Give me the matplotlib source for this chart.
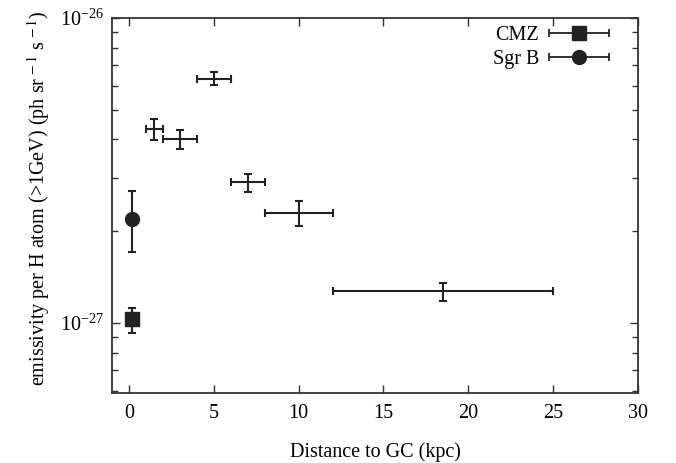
import numpy as np
import matplotlib
matplotlib.use("Agg")
import matplotlib.pyplot as plt
from matplotlib.legend_handler import HandlerErrorbar
from matplotlib.container import ErrorbarContainer
from matplotlib.ticker import NullFormatter

plt.rcParams['font.family'] = ['Liberation Serif', 'DejaVu Serif']
plt.rcParams['mathtext.fontset'] = 'stix'

# rings (distance bins)
dist = [1.5, 3.0, 5.0, 7.0, 10.0, 18.5]
dist_lo = [1.0, 2.0, 4.0, 6.0, 8.0, 12.0]
dist_hi = [2.0, 4.0, 6.0, 8.0, 12.0, 25.0]
emis = [4.34e-27, 4.0e-27, 6.33e-27, 2.90e-27, 2.30e-27, 1.27e-27]
emis_hi = [4.67e-27, 4.3e-27, 6.65e-27, 3.09e-27, 2.51e-27, 1.35e-27]
emis_lo = [3.99e-27, 3.71e-27, 6.01e-27, 2.69e-27, 2.08e-27, 1.18e-27]

# CMZ and Sgr B
cmz_x, cmz_y, cmz_hi, cmz_lo = 0.2, 1.03e-27, 1.12e-27, 0.93e-27
sgrb_x, sgrb_y, sgrb_hi, sgrb_lo = 0.2, 2.20e-27, 2.70e-27, 1.71e-27

xticks = [0, 5, 10, 15, 20, 25, 30]
yticks = [1e-27, 1e-26]

fig = plt.figure(figsize=(6.76, 4.63), dpi=100)
ax = fig.add_axes([0.1657, 0.1512, 0.7781, 0.8099])

dist = np.array(dist)
emis = np.array(emis)
xerr = [dist - np.array(dist_lo), np.array(dist_hi) - dist]
yerr = [emis - np.array(emis_lo), np.array(emis_hi) - emis]
ax.errorbar(dist, emis, xerr=xerr, yerr=yerr, fmt='none', ecolor='#222222',
            elinewidth=1.5, capsize=2.8, capthick=1.5)

ax.errorbar([cmz_x], [cmz_y], yerr=[[cmz_y - cmz_lo], [cmz_hi - cmz_y]],
            fmt='s', color='#222222', ms=9.5, elinewidth=1.5, capsize=2.8, capthick=1.5)
ax.errorbar([sgrb_x], [sgrb_y], yerr=[[sgrb_y - sgrb_lo], [sgrb_hi - sgrb_y]],
            fmt='o', color='#222222', ms=10, elinewidth=1.5, capsize=2.8, capthick=1.5)

# legend handles: marker with horizontal bar
h1 = ax.errorbar([np.nan], [np.nan], xerr=[1], fmt='s', color='#222222', ms=9.5,
                 elinewidth=1.3, capsize=2.8, capthick=1.3, label='CMZ')
h2 = ax.errorbar([np.nan], [np.nan], xerr=[1], fmt='o', color='#222222', ms=10,
                 elinewidth=1.3, capsize=2.8, capthick=1.3, label='Sgr B')

ax.set_yscale('log')
ax.set_xlim(-1, 30)
ax.set_ylim(5.9e-28, 1e-26)
ax.set_xticks(xticks)
ax.set_yticks(yticks)
ax.yaxis.set_minor_formatter(NullFormatter())

ax.tick_params(which='both', direction='in', top=True, right=True, labelsize=14.5,
               color='#333333')
ax.tick_params(which='major', length=6, width=1)
ax.tick_params(which='minor', length=4, width=1)
ax.tick_params(axis='x', pad=8)
ax.tick_params(axis='y', pad=6)
for s in ax.spines.values():
    s.set_linewidth(1.3)
    s.set_color('#333333')

ax.set_xlabel('Distance to GC (kpc)', fontsize=14.5, labelpad=14)
ax.set_ylabel(r'emissivity per H atom (>1GeV) (ph sr$^{\,-1}$ s$^{\,-1}$)', fontsize=14.5)
ax.yaxis.set_label_coords(-0.114, 0.52)

ax.legend(handles=[h1, h2], loc='upper right', frameon=False, markerfirst=False,
          fontsize=14.5, handlelength=3.1, handletextpad=0.45, labelspacing=0.22,
          borderaxespad=0.0, bbox_to_anchor=(0.963, 1.0),
          handler_map={ErrorbarContainer: HandlerErrorbar(xerr_size=1.5)})

fig.savefig('out.png', dpi=100)
